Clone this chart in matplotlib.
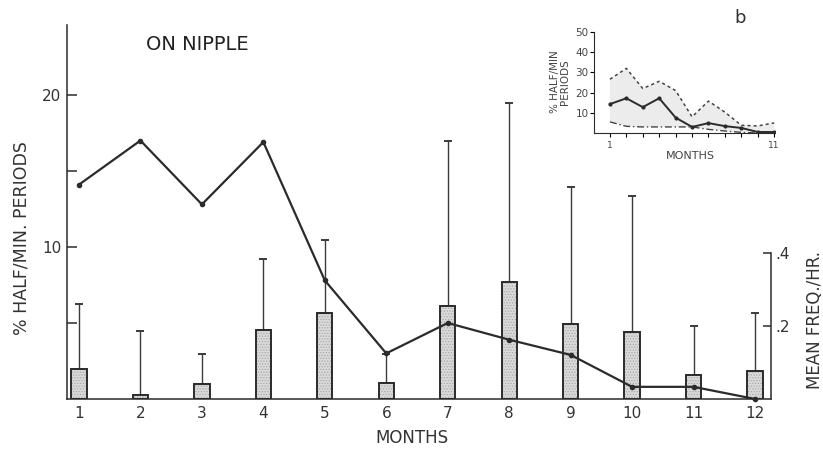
import matplotlib
matplotlib.use("Agg")
import matplotlib.pyplot as plt

# ---------------- data ----------------
months = [1, 2, 3, 4, 5, 6, 7, 8, 9, 10, 11, 12]
month_labels = ["1", "2", "3", "4", "5", "6", "7", "8", "9", "10", "11", "12"]
pct_half_min = [14.1, 17.0, 12.8, 16.9, 7.8, 3.0, 5.0, 3.9, 2.9, 0.8, 0.8, 0.0]
mean_freq = [0.082, 0.010, 0.041, 0.190, 0.236, 0.044, 0.255, 0.320, 0.205, 0.184, 0.066, 0.077]
mean_freq_upper = [0.260, 0.186, 0.123, 0.384, 0.436, 0.123, 0.707, 0.810, 0.580, 0.556, 0.200, 0.236]

inset_months = [1, 2, 3, 4, 5, 6, 7, 8, 9, 10, 11]
inset_mean = [14.3, 17.2, 12.8, 17.2, 7.6, 3.0, 4.9, 3.4, 2.5, 0.5, 0.5]
inset_upper = [26.6, 32.0, 22.0, 25.6, 21.0, 8.0, 15.8, 10.3, 3.8, 3.5, 5.0]
inset_lower = [5.5, 3.3, 3.0, 3.0, 3.0, 3.0, 1.8, 1.0, 0.3, 0.0, 0.0]

W, H = 823, 450
fig = plt.figure(figsize=(W / 100, H / 100), dpi=100)
ink = "#2b2b2b"
plt.rcParams['font.family'] = ['DejaVu Sans']
plt.rcParams['hatch.linewidth'] = 0.6

def px(x, y):
    return x / W, 1 - y / H

# ---------------- main axes ----------------
ax = fig.add_axes([67 / W, 1 - 399 / H, (771 - 67) / W, (399 - 25) / H])
ax2 = ax.twinx()
ax.set_zorder(ax2.get_zorder() + 1)
ax.patch.set_visible(False)

ax.set_xlim(0.805, 12.26)
ax.set_ylim(0, 24.6)
ax2.set_ylim(0, 1.025)

# bars (mean freq / hr) on right axis: stippled fill, then outline
errs = [u - m for u, m in zip(mean_freq_upper, mean_freq)]
ax2.bar(months, mean_freq, width=0.25, facecolor="#dadada", edgecolor="#a8a8a8",
        linewidth=0, hatch="......", zorder=2)
ax2.bar(months, mean_freq, width=0.25, facecolor="none", edgecolor=ink,
        linewidth=1.4, zorder=3)
ax2.errorbar(months, mean_freq, yerr=[[0] * len(errs), errs], fmt="none",
             ecolor="#3a3a3a", elinewidth=1.0, capsize=3, capthick=1.4,
             zorder=1, clip_on=False)

# line (% half/min periods) on left axis
ax.plot(months, pct_half_min, color=ink, linewidth=1.6, marker="o",
        markersize=3, zorder=5, clip_on=False)

for s in ["top", "right"]:
    ax.spines[s].set_visible(False)
for s in ["top", "left", "bottom"]:
    ax2.spines[s].set_visible(False)
ax.spines["left"].set_color(ink)
ax.spines["bottom"].set_color(ink)
ax.spines["left"].set_linewidth(1.1)
ax.spines["bottom"].set_linewidth(1.1)
ax2.spines["right"].set_bounds(0, 0.4)
ax2.spines["right"].set_color(ink)
ax2.spines["right"].set_linewidth(1.1)

ax.set_xticks(months)
ax.set_xticklabels(month_labels, fontsize=11, color="#333333")
ax.tick_params(axis="x", length=0, pad=5)

ax.set_yticks([5, 10, 15, 20])
ax.set_yticklabels(["", "10", "", "20"], fontsize=11, color="#333333")
ax.tick_params(axis="y", direction="in", length=7, width=1.1, color=ink, pad=4)

ax2.set_yticks([0.2, 0.4])
ax2.set_yticklabels([".2", ".4"], fontsize=11, color="#333333")
ax2.tick_params(axis="y", direction="in", length=6, width=1.1, color=ink, pad=3)

fig.text(*px(22, 238), "% HALF/MIN. PERIODS", rotation=90, ha="center",
         va="center", fontsize=12.5, color="#333333")
fig.text(*px(815, 320), "MEAN FREQ./HR.", rotation=90, ha="center",
         va="center", fontsize=12, color="#333333")
fig.text(*px(412, 438), "MONTHS", ha="center", va="center", fontsize=12,
         color="#333333")
fig.text(*px(197, 44), "ON NIPPLE", ha="center", va="center", fontsize=14,
         color="#222222")
fig.text(*px(740, 18), "b", ha="center", va="center", fontsize=13,
         color="#333333")

# ---------------- inset ----------------
axi = fig.add_axes([594 / W, 1 - 133 / H, (775 - 594) / W, (133 - 32) / H])
axi.set_xlim(0.03, 11.05)
axi.set_ylim(0, 50)
axi.fill_between(inset_months, inset_lower, inset_upper, facecolor="#ececec",
                 edgecolor="none", zorder=1)
axi.plot(inset_months, inset_upper, color="#444444", linewidth=1.1,
         linestyle=(0, (2, 2)), zorder=2)
axi.plot(inset_months, inset_lower, color="#444444", linewidth=1.0,
         linestyle=(0, (5, 2, 1, 2)), zorder=2)
axi.plot(inset_months, inset_mean, color=ink, linewidth=1.4, marker="o",
         markersize=2, zorder=3)
for s in ["top", "right"]:
    axi.spines[s].set_visible(False)
axi.spines["left"].set_color(ink)
axi.spines["bottom"].set_color(ink)
axi.set_yticks([10, 20, 30, 40, 50])
axi.set_yticklabels(["10", "20", "30", "40", "50"], fontsize=7.5, color="#444444")
axi.tick_params(axis="y", direction="out", length=3, pad=1)
axi.set_xticks(inset_months)
axi.set_xticklabels(["1"] + [""] * 9 + ["11"], fontsize=6.5, color="#444444")
axi.tick_params(axis="x", direction="out", length=3, pad=3)
fig.text(*px(560, 82), "% HALF/MIN\nPERIODS", rotation=90, ha="center",
         va="center", fontsize=7.5, color="#444444", linespacing=1.0)
fig.text(*px(690, 156), "MONTHS", ha="center", va="center", fontsize=8,
         color="#444444")

fig.savefig("out.png", dpi=100)
